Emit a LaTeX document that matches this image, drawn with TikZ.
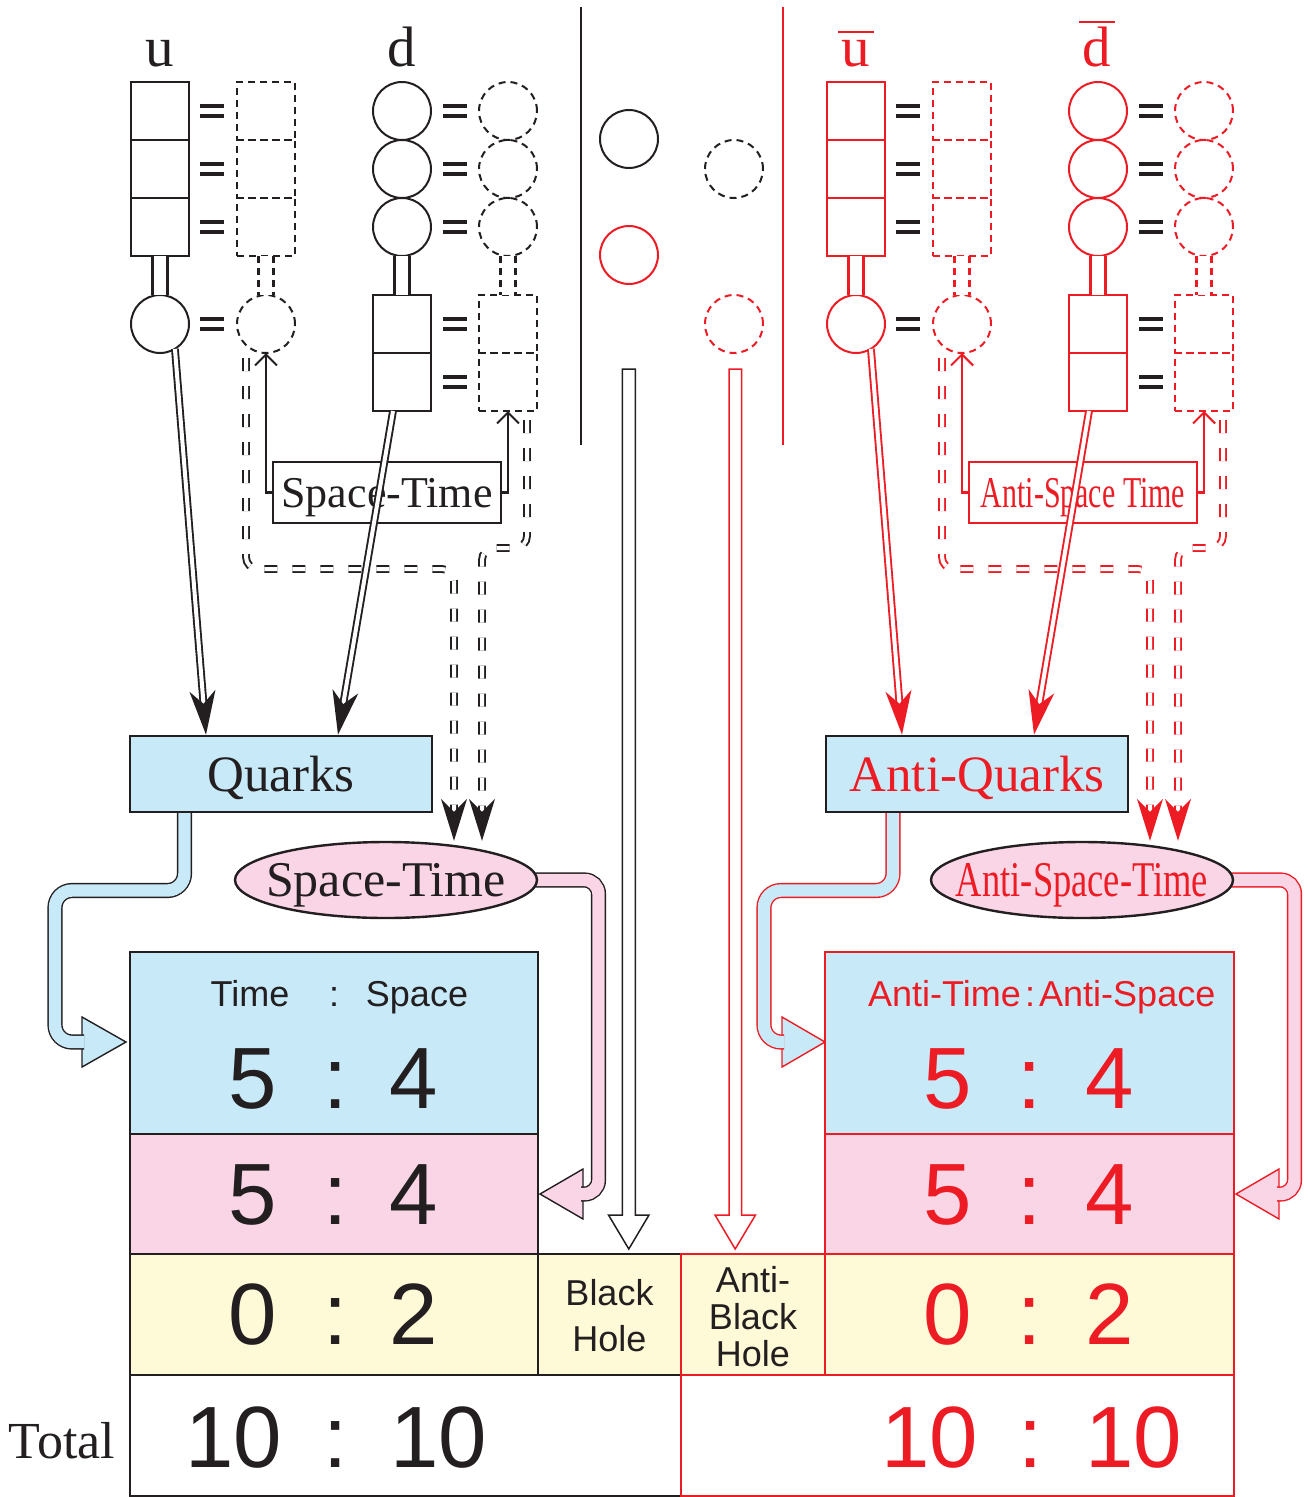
\documentclass[tikz,border=0pt]{standalone}
\usepackage{fontspec}
\setmainfont{Liberation Serif}
\setsansfont{Liberation Sans}
\usepackage{graphicx}
\usetikzlibrary{arrows.meta,shapes.geometric}
\pgfdeclarelayer{bg}
\pgfsetlayers{bg,main}
\definecolor{ink}{RGB}{35,31,32}
\definecolor{qred}{RGB}{237,28,36}
\definecolor{qblue}{RGB}{199,233,248}
\definecolor{qpink}{RGB}{249,213,230}
\definecolor{qyellow}{RGB}{254,249,214}
\tikzset{
 sqbox/.style={rectangle,draw,minimum width=58pt,minimum height=58pt,inner sep=0pt,outer sep=0pt,line width=2pt},
 cbox/.style={circle,draw,minimum size=58pt,inner sep=0pt,outer sep=0pt,line width=2pt},
 dsh/.style={dash pattern=on 7pt off 5pt},
 eqsign/.pic={\draw[ink,line width=4pt] (-12,-4.6)--(12,-4.6) (-12,4.6)--(12,4.6);},
 link/.style={double,double distance=12.6pt,line width=2.3pt},
 dblarrow/.style={double,double distance=4pt,line width=1.9pt,-{Stealth[length=44pt,width=26pt,inset=13pt]}},
 ddarrow/.style={double,double distance=4pt,line width=1.9pt,dash pattern=on 13pt off 15pt,rounded corners=12pt,-{Stealth[length=42pt,width=26pt,inset=13pt]}},
 barb/.style={line width=2.1pt,-{Straight Barb[length=11pt,width=22pt]}},
 serifbig/.style={font=\fontsize{57}{57}\selectfont,inner sep=0pt,anchor=base},
 hdr/.style={font=\sffamily\fontsize{36}{36}\selectfont,inner sep=0pt,anchor=base},
 dig/.style={font=\sffamily\fontsize{87}{87}\selectfont,inner sep=0pt,anchor=base},
 cell/.style={rectangle,draw,inner sep=0pt,outer sep=0pt,line width=2.4pt,anchor=north west},
 fat/.style={double distance=12.4pt,line width=1.4pt,rounded corners=17pt},
 headst/.style={line width=1.4pt,line join=miter},
 hollow/.style={line width=1.5pt,fill=white,line join=miter},
}
\newcommand\quarkhalf[6]{%
\begin{scope}[xshift=#6]
 \foreach \n/\y in {1/111,2/169,3/227}{
   \node[sqbox,draw=#2] (#1u\n) at (160,\y) {};
   \node[sqbox,dsh,draw=#2] (#1v\n) at (266,\y) {};
   \node[cbox,draw=#2] (#1d\n) at (402,\y) {};
   \node[cbox,dsh,draw=#2] (#1e\n) at (508,\y) {};
   \pic at (212,\y) {eqsign};
   \pic at (455,\y) {eqsign};
 }
 \node[cbox,draw=#2] (#1u4) at (160,324) {};
 \node[cbox,dsh,draw=#2] (#1v4) at (266,324) {};
 \pic at (212,324) {eqsign};
 \node[sqbox,draw=#2] (#1d4) at (402,324) {};
 \node[sqbox,draw=#2] (#1d5) at (402,382) {};
 \node[sqbox,dsh,draw=#2] (#1e4) at (508,324) {};
 \node[sqbox,dsh,draw=#2] (#1e5) at (508,382) {};
 \pic at (455,324) {eqsign};
 \pic at (455,382) {eqsign};
 \draw[link,draw=#2] (#1u3.south) -- (#1u4.north);
 \draw[link,draw=#2] (#1d3.south) -- (#1d4.north);
 \draw[link,dsh,draw=#2] (#1v3.south) -- (#1v4.north);
 \draw[link,dsh,draw=#2] (#1e3.south) -- (#1e4.north);
 \node[rectangle,draw=#2,fill=white,line width=2.4pt,minimum width=228pt,minimum height=61pt,inner sep=0pt,text=#2,font=\fontsize{44}{44}\selectfont,text height=29pt,text depth=0pt] (#1st) at (387,492.5) {#3};
 \draw[barb,#2] (#1st.west) -| (#1v4.south);
 \draw[barb,#2] (#1st.east) -| (#1e5.south);
 \node[rectangle,draw=ink,fill=qblue,line width=2.6pt,minimum width=302pt,minimum height=76pt,inner sep=0pt,text=#2,font=\fontsize{51}{51}\selectfont,text height=34pt,text depth=0pt] (#1quarks) at (281,774) {#4};
 \node[ellipse,draw=ink,fill=qpink,line width=2.4pt,minimum width=302pt,minimum height=76pt,inner sep=0pt,text=#2,font=\fontsize{50}{50}\selectfont,text height=33pt,text depth=0pt] (#1ell) at (386,880) {\makebox[0pt]{#5}};
 \draw[ddarrow,#2] ([shift={(-20,34)}]#1v4.center) |- (454,569) -- (454,0 |- #1ell.north);
 \draw[ddarrow,#2] ([shift={(19,9)}]#1e5.south) -- (527,548) -- (482,548) -- (482,0 |- #1ell.north);
 \draw[dblarrow,#2] (#1u4.-59) -- (206,0 |- #1quarks.north);
 \draw[dblarrow,#2] ([xshift=-9pt]#1d5.south) -- (338,0 |- #1quarks.north);
\end{scope}}
\begin{document}
\begin{tikzpicture}[x=1pt,y=-1pt]
\useasboundingbox (0,0) rectangle (1308,1497);
% labels
\node[serifbig,text=ink] (lu) at (160,66) {u};
\node[serifbig,text=ink] (ld) at (402,66) {d};
\node[serifbig,text=qred] (lub) at (856,66) {u};
\node[serifbig,text=qred] (ldb) at (1097,66) {d};
\draw[qred,line width=2pt] ([shift={(-18,-34)}]lub.base) -- ([shift={(18,-34)}]lub.base);
\draw[qred,line width=2pt] ([shift={(-18,-44)}]ldb.base) -- ([shift={(18,-44)}]ldb.base);
% two halves
\quarkhalf{}{ink}{Space-Time}{Quarks}{Space-Time}{0pt}
\quarkhalf{a}{qred}{\scalebox{0.68}[1]{Anti-Space Time}}{Anti-Quarks}{\scalebox{0.73}[1]{Anti-Space-Time}}{696pt}
% middle
\draw[ink,line width=2.8pt] (581,7) -- (581,445);
\draw[qred,line width=2.8pt] (783,7) -- (783,445);
\node[cbox,draw=ink] (m1) at (629,139) {};
\node[cbox,dsh,draw=ink] (m2) at (734,169) {};
\node[cbox,draw=qred] (m3) at (629,255) {};
\node[cbox,dsh,draw=qred] (m4) at (734,324) {};
\draw[hollow,draw=ink] (622.3,369) -- (635.3,369) -- (635.3,1215) -- (649,1215) -- (628.8,1249) -- (608.5,1215) -- (622.3,1215) -- cycle;
\draw[hollow,draw=qred] (729,369) -- (741.5,369) -- (741.5,1215) -- (755.5,1215) -- (735.2,1249) -- (715,1215) -- (729,1215) -- cycle;
% tables: black cells
\node[cell,draw=ink,fill=qblue,minimum width=408pt,minimum height=182pt] (lt1) at (130,952) {};
\node[cell,draw=ink,fill=qpink,minimum width=408pt,minimum height=120pt] (lt2) at (130,1134) {};
\node[cell,draw=ink,fill=qyellow,minimum width=408pt,minimum height=121pt] (lt3) at (130,1254) {};
\node[cell,draw=ink,fill=qyellow,minimum width=143pt,minimum height=121pt] (bh) at (538,1254) {};
\node[cell,draw=ink,fill=white,minimum width=551pt,minimum height=121pt] (ltot) at (130,1375) {};
% red cells
\node[cell,draw=qred,fill=qyellow,minimum width=144pt,minimum height=121pt] (abh) at (681,1254) {};
\node[cell,draw=qred,fill=qblue,minimum width=409pt,minimum height=182pt] (rt1) at (825,952) {};
\node[cell,draw=qred,fill=qpink,minimum width=409pt,minimum height=120pt] (rt2) at (825,1134) {};
\node[cell,draw=qred,fill=qyellow,minimum width=409pt,minimum height=121pt] (rt3) at (825,1254) {};
\node[cell,draw=qred,fill=none,minimum width=553pt,minimum height=121pt] (rtot) at (681,1375) {};
% table texts left
\node[hdr,text=ink] (h1) at (250,1006) {Time};
\node[hdr,text=ink] (h2) at (334,1006) {:};
\node[hdr,text=ink] (h3) at (417,1006) {Space};
\node[dig,text=ink] (a1) at (253,1108) {5};
\node[dig,text=ink] (a2) at (336,1108) {:};
\node[dig,text=ink] (a3) at (414,1108) {4};
\node[dig,text=ink] (b1) at (253,1224) {5};
\node[dig,text=ink] (b2) at (336,1224) {:};
\node[dig,text=ink] (b3) at (414,1224) {4};
\node[dig,text=ink] (c1) at (253,1344) {0};
\node[dig,text=ink] (c2) at (336,1344) {:};
\node[dig,text=ink] (c3) at (414,1344) {2};
\node[dig,text=ink] (t1) at (234,1467) {10};
\node[dig,text=ink] (t2) at (336,1467) {:};
\node[dig,text=ink] (t3) at (439,1467) {10};
\node[font=\fontsize{52}{52}\selectfont,anchor=base,inner sep=0pt,text=ink] (total) at (62,1458) {Total};
\node[font=\sffamily\fontsize{36}{46}\selectfont,align=center,inner sep=0pt,text=ink] (bht) at (609.5,1316) {Black\\Hole};
\node[font=\sffamily\fontsize{36}{37}\selectfont,align=center,inner sep=0pt,text=ink] (abht) at (753,1317) {Anti-\\Black\\Hole};
% table texts right
\node[hdr,anchor=base east,text=qred] (rh1) at (1021,1006) {Anti-Time};
\node[hdr,text=qred] (rh2) at (1030,1006) {:};
\node[hdr,anchor=base west,text=qred] (rh3) at (1039,1006) {Anti-Space};
\node[dig,text=qred] (ra1) at (948,1108) {5};
\node[dig,text=qred] (ra2) at (1030,1108) {:};
\node[dig,text=qred] (ra3) at (1110,1108) {4};
\node[dig,text=qred] (rb1) at (948,1224) {5};
\node[dig,text=qred] (rb2) at (1030,1224) {:};
\node[dig,text=qred] (rb3) at (1110,1224) {4};
\node[dig,text=qred] (rc1) at (948,1344) {0};
\node[dig,text=qred] (rc2) at (1030,1344) {:};
\node[dig,text=qred] (rc3) at (1110,1344) {2};
\node[dig,text=qred] (rt1x) at (930,1467) {10};
\node[dig,text=qred] (rt2x) at (1031,1467) {:};
\node[dig,text=qred] (rt3x) at (1134,1467) {10};
% fat arrows
\begin{pgfonlayer}{bg}
\filldraw[headst,fill=qblue,draw=ink] (82,1017) -- (126,1042) -- (82,1067) -- cycle;
\draw[fat,draw=ink,double=qblue] (184.5,0 |- quarks.center) -- (184.5,890.5) -- (55,890.5) -- (55,1042) -- (84,1042);
\filldraw[headst,fill=qpink,draw=ink] (583,1169) -- (540,1194) -- (583,1219) -- cycle;
\draw[fat,rounded corners=14pt,draw=ink,double=qpink] (ell.center) -- (598.5,880) -- (598.5,1194) -- (581,1194);
\filldraw[headst,fill=qblue,draw=qred] (782,1017) -- (825,1042) -- (782,1067) -- cycle;
\draw[fat,draw=qred,double=qblue] (893,0 |- aquarks.center) -- (893,890.5) -- (764,890.5) -- (764,1042) -- (784,1042);
\filldraw[headst,fill=qpink,draw=qred] (1279,1169) -- (1236,1194) -- (1279,1219) -- cycle;
\draw[fat,rounded corners=14pt,draw=qred,double=qpink] (aell.center) -- (1294.5,880) -- (1294.5,1194) -- (1277,1194);
\end{pgfonlayer}
\end{tikzpicture}
\end{document}
